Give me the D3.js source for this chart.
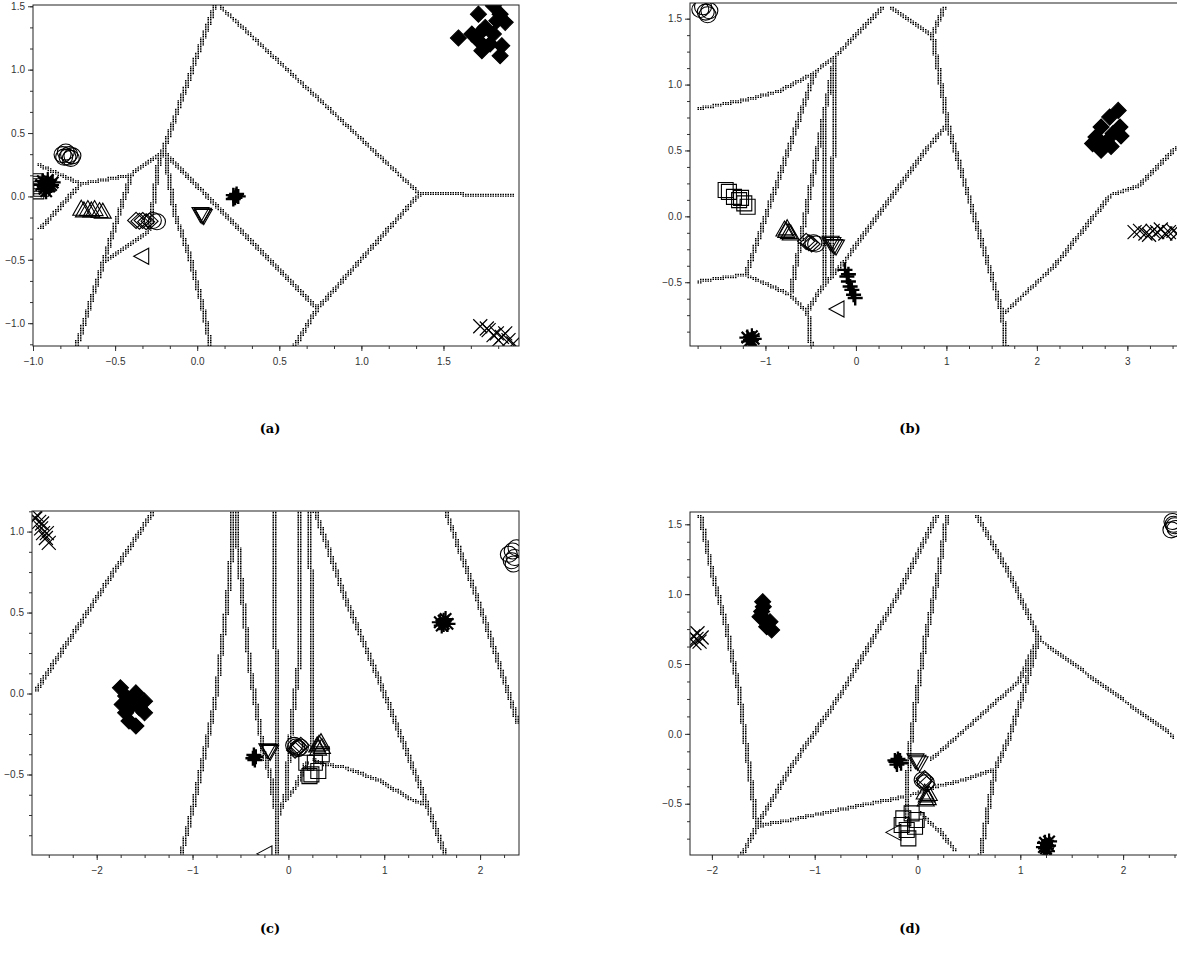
<!DOCTYPE html>
<html>
<head>
<meta charset="utf-8">
<script src="https://cdn.jsdelivr.net/npm/d3@7"></script>
<style>
  body { margin: 0; background: #fff; }
</style>
</head>
<body>
<svg id="fig" width="1177" height="955"></svg>
<script>
// ---- panel (a) ----
var aXDomain = [-1.0, 1.96], aYDomain = [-1.18, 1.51];
var aXTicks = [-1.0, -0.5, 0.0, 0.5, 1.0, 1.5];
var aXLabels = ["−1.0", "−0.5", "0.0", "0.5", "1.0", "1.5"];
var aYTicks = [-1.0, -0.5, 0.0, 0.5, 1.0, 1.5];
var aYLabels = ["−1.0", "−0.5", "0.0", "0.5", "1.0", "1.5"];
var aMarkers = [
  ["D",1.591,1.250],["D",1.713,1.438],["D",1.804,1.504],["D",1.845,1.438],["D",1.876,1.373],
  ["D",1.855,1.189],["D",1.845,1.110],["D",1.734,1.150],["D",1.673,1.281],["D",1.714,1.228],
  ["D",1.754,1.333],["D",1.804,1.281],["D",1.784,1.202],["D",1.825,1.386],["D",1.723,1.291],
  ["x",1.724,-1.024],["x",1.764,-1.042],["x",1.775,-1.055],["x",1.805,-1.094],["x",1.825,-1.081],
  ["x",1.856,-1.108],["x",1.876,-1.081],["x",1.835,-1.134],["x",1.896,-1.134],["x",1.926,-1.160],
  ["o",-0.82,0.33],["o",-0.80,0.35],["o",-0.79,0.31],["o",-0.77,0.30],["o",-0.78,0.33],["o",-0.81,0.31],["o",-0.76,0.32],
  ["s",-0.99,0.12],["s",-0.97,0.08],["s",-0.98,0.04],["s",-0.96,0.10],["s",-0.95,0.06],
  ["*",-0.94,0.12],["*",-0.92,0.10],["*",-0.90,0.08],["*",-0.93,0.06],["*",-0.91,0.13],
  ["*",-0.89,0.09],["*",-0.95,0.09],["*",-0.92,0.04],["*",-0.88,0.11],
  ["^",-0.706,-0.097],["^",-0.69,-0.11],["^",-0.666,-0.10],["^",-0.645,-0.11],["^",-0.625,-0.10],["^",-0.595,-0.115],["^",-0.575,-0.12],
  ["d",-0.372,-0.189],["d",-0.352,-0.195],["d",-0.332,-0.19],["d",-0.311,-0.20],["d",-0.29,-0.195],
  ["o",-0.27,-0.19],["o",-0.245,-0.20],
  ["<",-0.341,-0.472],
  ["v",0.02,-0.14],["v",0.03,-0.15],["v",0.04,-0.155],["v",0.035,-0.145],
  ["+",0.22,0.01],["+",0.23,-0.01],["+",0.24,0.02],["+",0.25,0.0],["+",0.22,-0.02],["+",0.235,0.005]
];
var aLines = [
  [[-0.970,0.262],[-0.716,0.11]],
  [[-0.970,-0.254],[-0.716,0.11]],
  [[-0.716,0.11],[-0.413,0.178],[-0.22,0.362]],
  [[-0.22,0.362],[0.095,1.51]],
  [[0.135,1.51],[1.349,0.034]],
  [[1.349,0.034],[1.916,0.02]],
  [[1.349,0.034],[0.72,-0.88]],
  [[-0.22,0.362],[0.72,-0.88]],
  [[0.72,-0.88],[0.58,-1.18]],
  [[-0.24,0.34],[-0.301,-0.26]],
  [[-0.21,0.36],[-0.149,-0.136],[-0.068,-0.425],[0.013,-0.82],[0.07,-1.18]],
  [[-0.747,-1.18],[-0.413,0.178]],
  [[-0.55,-0.49],[-0.30,-0.26]]
];

// ---- panel (b) ----
var bXDomain = [-1.834, 3.56], bYDomain = [-0.984, 1.619];
var bXTicks = [-1, 0, 1, 2, 3];
var bXLabels = ["−1", "0", "1", "2", "3"];
var bYTicks = [-0.5, 0.0, 0.5, 1.0, 1.5];
var bYLabels = ["−0.5", "0.0", "0.5", "1.0", "1.5"];
var bMarkers = [
  ["o",-1.72,1.57],["o",-1.66,1.55],["o",-1.62,1.56],["o",-1.69,1.59],["o",-1.64,1.53],
  ["s",-1.44,0.20],["s",-1.404,0.186],["s",-1.348,0.148],["s",-1.291,0.123],["s",-1.27,0.14],["s",-1.234,0.098],["s",-1.197,0.073],
  ["^",-0.79,-0.10],["^",-0.77,-0.11],["^",-0.76,-0.09],["^",-0.74,-0.12],["^",-0.72,-0.13],
  ["d",-0.55,-0.19],["d",-0.52,-0.20],["d",-0.49,-0.21],["o",-0.47,-0.20],["o",-0.44,-0.21],
  ["v",-0.28,-0.20],["v",-0.26,-0.21],["v",-0.24,-0.225],["v",-0.22,-0.23],
  ["+",-0.121,-0.406],["+",-0.10,-0.457],["+",-0.083,-0.44],["+",-0.083,-0.495],["+",-0.064,-0.532],
  ["+",-0.045,-0.558],["+",-0.026,-0.595],["+",-0.008,-0.62],
  ["<",-0.215,-0.703],
  ["*",-1.20,-0.92],["*",-1.16,-0.94],["*",-1.13,-0.93],["*",-1.18,-0.95],["*",-1.15,-0.91],
  ["D",2.899,0.804],["D",2.805,0.753],["D",2.918,0.678],["D",2.71,0.678],["D",2.843,0.628],["D",2.653,0.602],
  ["D",2.767,0.564],["D",2.616,0.552],["D",2.71,0.502],["D",2.82,0.53],["D",2.93,0.61],
  ["x",3.08,-0.12],["x",3.14,-0.11],["x",3.20,-0.13],["x",3.24,-0.14],["x",3.28,-0.11],["x",3.33,-0.12],
  ["x",3.37,-0.10],["x",3.42,-0.13],["x",3.46,-0.12],["x",3.51,-0.11],["x",3.55,-0.13]
];
var bLines = [
  [[-1.744,0.83],[-1.234,0.893],[-0.857,0.961],[-0.479,1.094],[-0.25,1.22],[0.276,1.591]],
  [[0.389,1.591],[0.823,1.384]],
  [[0.955,1.591],[0.823,1.384]],
  [[0.823,1.384],[0.993,0.703],[1.597,-0.734],[1.635,-0.984]],
  [[1.635,-0.722],[2.163,-0.381],[2.805,0.174],[3.106,0.237],[3.485,0.502],[3.56,0.55]],
  [[-1.744,-0.482],[-1.234,-0.431],[-0.744,-0.582],[-0.555,-0.709]],
  [[-0.555,-0.709],[-0.517,-0.984]],
  [[-1.234,-0.431],[-0.479,1.094]],
  [[-0.555,-0.709],[-0.398,-0.533],[-0.14,-0.331],[0.229,0.024],[0.744,0.504],[0.993,0.703]],
  [[-0.25,1.22],[-0.744,-0.582]],
  [[-0.25,1.22],[-0.30,-0.456]],
  [[-0.36,0.78],[-0.38,-0.52]]
];

// ---- panel (c) ----
var cXDomain = [-2.675, 2.406], cYDomain = [-0.997, 1.127];
var cXTicks = [-2, -1, 0, 1, 2];
var cXLabels = ["−2", "−1", "0", "1", "2"];
var cYTicks = [-0.5, 0.0, 0.5, 1.0];
var cYLabels = ["−0.5", "0.0", "0.5", "1.0"];
var cMarkers = [
  ["x",-2.62,1.10],["x",-2.64,1.08],["x",-2.60,1.06],["x",-2.57,1.05],["x",-2.58,1.02],
  ["x",-2.56,0.99],["x",-2.52,0.99],["x",-2.53,0.96],["x",-2.50,0.93],
  ["D",-1.752,0.035],["D",-1.698,-0.016],["D",-1.591,0.004],["D",-1.627,-0.027],["D",-1.501,-0.047],["D",-1.734,-0.068],
  ["D",-1.645,-0.078],["D",-1.555,-0.088],["D",-1.698,-0.119],["D",-1.501,-0.119],["D",-1.663,-0.17],["D",-1.591,-0.201],
  ["*",1.58,0.44],["*",1.62,0.45],["*",1.66,0.43],["*",1.60,0.42],["*",1.64,0.46],["*",1.62,0.43],
  ["o",2.30,0.86],["o",2.34,0.88],["o",2.36,0.84],["o",2.33,0.82],["o",2.38,0.90],["o",2.35,0.80],
  ["+",-0.36,-0.38],["+",-0.35,-0.41],["+",-0.34,-0.39],["+",-0.37,-0.40],
  ["v",-0.22,-0.35],["v",-0.20,-0.355],["v",-0.19,-0.36],
  ["o",0.06,-0.32],["o",0.08,-0.33],["o",0.10,-0.34],["o",0.12,-0.33],
  ["d",0.07,-0.35],["d",0.09,-0.34],["d",0.11,-0.33],["d",0.13,-0.32],
  ["^",0.30,-0.32],["^",0.32,-0.31],["^",0.34,-0.30],["^",0.35,-0.33],["^",0.31,-0.34],
  ["s",0.187,-0.427],["s",0.24,-0.499],["s",0.312,-0.478],["s",0.348,-0.376],["s",0.276,-0.427],["s",0.22,-0.51],
  ["<",-0.25,-0.99]
];
var cLines = [
  [[-2.65,0.025],[-1.432,1.127]],
  [[-1.142,-0.997],[-0.998,-0.653],[-0.783,-0.037],[-0.657,0.579],[-0.621,0.825],[-0.60,1.127]],
  [[-0.57,1.127],[-0.531,0.784],[-0.424,0.168],[-0.28,-0.365],[-0.208,-0.509],[-0.15,-0.72]],
  [[-0.17,1.127],[-0.154,0.374],[-0.14,-0.72],[-0.13,-0.997]],
  [[0.10,1.127],[0.10,0.25],[0.07,0.10],[0.034,-0.07],[-0.017,-0.38],[-0.05,-0.63],[-0.13,-0.75]],
  [[0.21,1.127],[0.22,-0.35]],
  [[0.17,-0.42],[0.05,-0.58],[-0.05,-0.65]],
  [[0.26,1.127],[0.582,0.579],[0.941,0.066],[1.408,-0.653],[1.62,-0.997]],
  [[0.25,-0.40],[0.366,-0.427],[0.582,-0.447],[0.941,-0.529],[1.30,-0.653],[1.41,-0.673]],
  [[1.623,1.127],[2.018,0.476],[2.377,-0.181]]
];

// ---- panel (d) ----
var dXDomain = [-2.213, 2.534], dYDomain = [-0.867, 1.588];
var dXTicks = [-2, -1, 0, 1, 2];
var dXLabels = ["−2", "−1", "0", "1", "2"];
var dYTicks = [-0.5, 0.0, 0.5, 1.0, 1.5];
var dYLabels = ["−0.5", "0.0", "0.5", "1.0", "1.5"];
var dMarkers = [
  ["x",-2.18,0.70],["x",-2.15,0.68],["x",-2.12,0.66],["x",-2.17,0.65],["x",-2.14,0.72],["x",-2.10,0.69],
  ["D",-1.506,0.946],["D",-1.50,0.91],["D",-1.516,0.875],["D",-1.532,0.839],["D",-1.483,0.815],
  ["D",-1.435,0.803],["D",-1.467,0.767],["D",-1.419,0.743],
  ["+",-0.22,-0.19],["+",-0.19,-0.18],["+",-0.16,-0.21],["+",-0.20,-0.22],["+",-0.17,-0.19],["+",-0.21,-0.20],
  ["v",-0.02,-0.19],["v",0.0,-0.20],["v",0.02,-0.21],
  ["o",0.05,-0.33],["o",0.08,-0.35],["d",0.06,-0.34],["d",0.09,-0.36],["d",0.07,-0.32],
  ["^",0.07,-0.42],["^",0.09,-0.44],["^",0.10,-0.46],["^",0.08,-0.47],["^",0.11,-0.43],
  ["s",-0.138,-0.605],["s",-0.057,-0.569],["s",-0.008,-0.617],["s",-0.105,-0.688],["s",-0.089,-0.748],
  ["s",-0.024,-0.665],["s",-0.154,-0.652],
  ["<",-0.235,-0.705],
  ["*",1.24,-0.78],["*",1.27,-0.80],["*",1.25,-0.82],["*",1.28,-0.77],["*",1.26,-0.84],["*",1.23,-0.81],
  ["o",2.48,1.52],["o",2.50,1.49],["o",2.47,1.46],["o",2.51,1.47],["o",2.49,1.50]
];
var dLines = [
  [[-2.132,1.567],[-2.018,1.161],[-1.889,0.803],[-1.759,0.326],[-1.662,-0.223],[-1.597,-0.581],[-1.581,-0.652]],
  [[-1.581,-0.652],[-1.727,-0.867]],
  [[-1.581,-0.652],[-1.24,-0.223],[-0.754,0.302],[-0.267,0.922],[0.17,1.567]],
  [[-1.581,-0.652],[-1.24,-0.605],[-0.851,-0.545],[-0.527,-0.497],[-0.203,-0.45],[-0.008,-0.414],
   [0.187,-0.366],[0.446,-0.318],[0.738,-0.246]],
  [[0.268,1.567],[0.186,1.161],[0.057,0.683],[-0.041,0.206],[-0.105,-0.176],[-0.122,-0.51],[-0.11,-0.60]],
  [[0.559,1.567],[0.867,1.161],[1.159,0.696]],
  [[1.159,0.696],[2.49,-0.01]],
  [[1.159,0.696],[0.965,0.374],[0.705,0.207],[0.381,-0.008],[0.122,-0.175]],
  [[1.159,0.684],[1.03,0.35],[0.867,-0.032],[0.738,-0.247],[0.673,-0.51],[0.592,-0.867]],
  [[0.024,-0.557],[0.186,-0.676],[0.349,-0.831]]
];

// layout of the four plot frames (pixels), caption spots and minor tick steps
var panels = [
  {id:"a", cap:"(a)", cx:270, cy:433, left:33,  right:519,  top:5,   bottom:346, xs:1/6,  ys:1/6,
   xd:aXDomain, yd:aYDomain, xt:aXTicks, xl:aXLabels, yt:aYTicks, yl:aYLabels, m:aMarkers, l:aLines},
  {id:"b", cap:"(b)", cx:910, cy:433, left:690, right:1178, top:3,   bottom:346, xs:0.25, ys:0.125,
   xd:bXDomain, yd:bYDomain, xt:bXTicks, xl:bXLabels, yt:bYTicks, yl:bYLabels, m:bMarkers, l:bLines},
  {id:"c", cap:"(c)", cx:270, cy:933, left:32,  right:519,  top:511, bottom:855, xs:0.25, ys:0.125,
   xd:cXDomain, yd:cYDomain, xt:cXTicks, xl:cXLabels, yt:cYTicks, yl:cYLabels, m:cMarkers, l:cLines},
  {id:"d", cap:"(d)", cx:910, cy:933, left:690, right:1178, top:512, bottom:855, xs:0.25, ys:0.125,
   xd:dXDomain, yd:dYDomain, xt:dXTicks, xl:dXLabels, yt:dYTicks, yl:dYLabels, m:dMarkers, l:dLines}
];

var svg = d3.select("#fig");
svg.append("rect").attr("width", 1177).attr("height", 955).attr("fill", "#fff");

// marker shapes, centred on 0,0
var shapes = {
  "o": "M8.5,0A8.5,8 0 1,1 -8.5,0A8.5,8 0 1,1 8.5,0Z",
  "s": "M-7.5,-7.5H7.5V7.5H-7.5Z",
  "D": "M0,-8L8,0L0,8L-8,0Z",
  "d": "M0,-8L8.5,0L0,8L-8.5,0Z",
  "^": "M0,-8.5L8.5,6.5L-8.5,6.5Z",
  "v": "M-8.5,-6.5L8.5,-6.5L0,8.5Z",
  "<": "M-7.5,0L7.5,-8L7.5,8Z",
  "x": "M-7,-7L7,7M-7,7L7,-7",
  "+": "M-7.5,0H7.5M0,-7.5V7.5",
  "*": "M-8,0H8M0,-8V8M-5.7,-5.7L5.7,5.7M-5.7,5.7L5.7,-5.7"
};
var widths = { "+": 2.4, "*": 2.2, "x": 1.2 };

// the decision boundaries look like points of a coarse grid
var GX = 2.5, GY = 1.7, DW = 1.5, DH = 1.2;
function dotPath(lines, sx, sy) {
  var cells = new Set();
  lines.forEach(function(line) {
    for (var k = 0; k < line.length - 1; k++) {
      var x0 = sx(line[k][0]), y0 = sy(line[k][1]);
      var dx = sx(line[k+1][0]) - x0, dy = sy(line[k+1][1]) - y0;
      var n = Math.ceil(Math.hypot(dx, dy) / 0.4) + 1;
      var steep = Math.abs(dy) > Math.abs(dx);
      for (var t = 0; t <= n; t++) {
        var i = Math.round((x0 + dx * t / n) / GX), j = Math.round((y0 + dy * t / n) / GY);
        cells.add(i + "," + j);
        cells.add(steep ? (i + 1) + "," + j : i + "," + (j + 1));
      }
    }
  });
  var d = "";
  cells.forEach(function(c) {
    var p = c.split(",");
    d += "M" + (p[0] * GX).toFixed(2) + "," + (p[1] * GY).toFixed(2) + "h" + DW + "v" + DH + "h" + (-DW) + "z";
  });
  return d;
}

panels.forEach(function(p) {
  var sx = d3.scaleLinear().domain(p.xd).range([p.left, p.right]);
  var sy = d3.scaleLinear().domain(p.yd).range([p.bottom, p.top]);
  var g = svg.append("g");

  g.append("clipPath").attr("id", "clip-" + p.id)
    .append("rect").attr("x", p.left).attr("y", p.top)
    .attr("width", p.right - p.left).attr("height", p.bottom - p.top);

  var plot = g.append("g").attr("clip-path", "url(#clip-" + p.id + ")");

  plot.selectAll("path.mark")
    .data(p.m)
    .enter()
    .append("path")
    .attr("class", "mark")
    .attr("d", function(d) { return shapes[d[0]]; })
    .attr("transform", function(d) { return "translate(" + sx(d[1]) + "," + sy(d[2]) + ")"; })
    .attr("fill", function(d) { return d[0] === "D" ? "#000" : "none"; })
    .attr("stroke", "#000")
    .attr("stroke-width", function(d) { return widths[d[0]] || 1.1; });

  plot.append("path")
    .attr("d", dotPath(p.l, sx, sy))
    .attr("fill", "#000");

  // minor ticks
  var xMinor = d3.range(Math.ceil(p.xd[0] / p.xs - 1e-6), Math.floor(p.xd[1] / p.xs + 1e-6) + 1)
    .map(function(k) { return k * p.xs; });
  var yMinor = d3.range(Math.ceil(p.yd[0] / p.ys - 1e-6), Math.floor(p.yd[1] / p.ys + 1e-6) + 1)
    .map(function(k) { return k * p.ys; });

  var xMin = g.append("g").attr("transform", "translate(0," + p.bottom + ")")
    .call(d3.axisBottom(sx).tickValues(xMinor).tickSize(3).tickFormat(""));
  var yMin = g.append("g").attr("transform", "translate(" + p.left + ",0)")
    .call(d3.axisLeft(sy).tickValues(yMinor).tickSize(3).tickFormat(""));
  var xMaj = g.append("g").attr("transform", "translate(0," + p.bottom + ")")
    .call(d3.axisBottom(sx).tickValues(p.xt).tickSize(5).tickPadding(7)
      .tickFormat(function(d, i) { return p.xl[i]; }));
  var yMaj = g.append("g").attr("transform", "translate(" + p.left + ",0)")
    .call(d3.axisLeft(sy).tickValues(p.yt).tickSize(5).tickPadding(3)
      .tickFormat(function(d, i) { return p.yl[i]; }));

  [xMin, yMin, xMaj, yMaj].forEach(function(a) {
    a.select(".domain").remove();
    a.selectAll("line").attr("stroke", "#333");
    a.selectAll("text")
      .style("font-family", "'Liberation Sans', Arial, sans-serif")
      .style("font-size", "10px")
      .attr("fill", "#333");
  });

  // frame
  g.append("rect")
    .attr("x", p.left).attr("y", p.top)
    .attr("width", p.right - p.left).attr("height", p.bottom - p.top)
    .attr("fill", "none").attr("stroke", "#222").attr("stroke-width", 1);

  // caption
  g.append("text")
    .attr("x", p.cx)
    .attr("y", p.cy)
    .attr("text-anchor", "middle")
    .style("font-family", "'DejaVu Serif', serif")
    .style("font-weight", "bold")
    .style("font-size", "13px")
    .attr("fill", "#000")
    .text(p.cap);
});
</script>
</body>
</html>
